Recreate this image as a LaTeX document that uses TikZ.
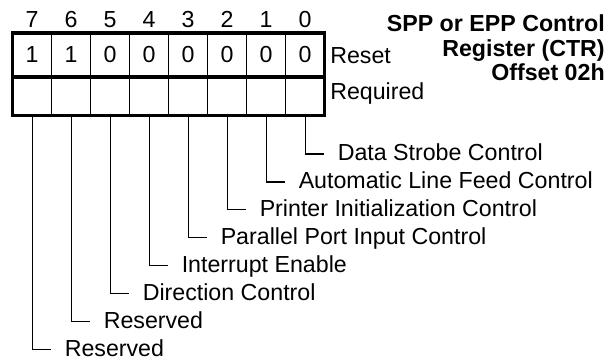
\documentclass[tikz,border=0pt]{standalone}
\usepackage{fontspec}
\setmainfont{Liberation Sans}
\begin{document}
\begin{tikzpicture}[x=0.75pt,y=-0.75pt,
  txt/.style={inner sep=0pt,font=\fontsize{17.4pt}{20pt}\selectfont},
  ttl/.style={txt,font=\fontsize{17.4pt}{20pt}\selectfont\bfseries,anchor=base east},
  lbl/.style={txt,anchor=base west},
  frame/.style={line width=2.3pt},
  thin/.style={line width=1pt},
  leader/.style={line width=1pt}]
\useasboundingbox (0,0) rectangle (615,360);
% cells
\foreach \i in {1,...,7} {
  \draw[thin] (12.5+39*\i,33) -- (12.5+39*\i,115.5);
}
\draw[frame] (12.5,33) rectangle (324.5,115.5);
\draw[frame] (12.5,77) -- (324.5,77);
% bit numbers and reset values
\foreach \b/\v [count=\k from 0] in {7/1,6/1,5/0,4/0,3/0,2/0,1/0,0/0} {
  \node[txt,anchor=base] (n\b) at (32+39*\k,28) {\b};
  \node[txt,anchor=base] (v\b) at (32+39*\k,63) {\v};
  \coordinate (top\b) at (32.5+39*\k,115.5);
}
\node[lbl] (reset) at (330,64) {Reset};
\node[lbl] (req) at (330,100) {Required};
% title
\node[ttl] (t1) at (605,31.5) {SPP or EPP Control};
\node[ttl] (t2) at (605,56.5) {Register (CTR)};
\node[ttl] (t3) at (605,80.5) {Offset 02h};
% leaders
\foreach \b/\name in {0/Data Strobe Control,1/Automatic Line Feed Control,2/Printer Initialization Control,3/Parallel Port Input Control,4/Interrupt Enable,5/Direction Control,6/Reserved,7/Reserved} {
  \pgfmathsetmacro{\yy}{154+27.9*\b}
  \pgfmathsetmacro{\xx}{32.5+39*(7-\b)}
  \coordinate (e\b) at (\xx+18,\yy);
  \node[lbl] (l\b) at (\xx+32,\yy+7) {\name};
  \draw[leader] (top\b) |- (e\b);
}
\end{tikzpicture}
\end{document}
